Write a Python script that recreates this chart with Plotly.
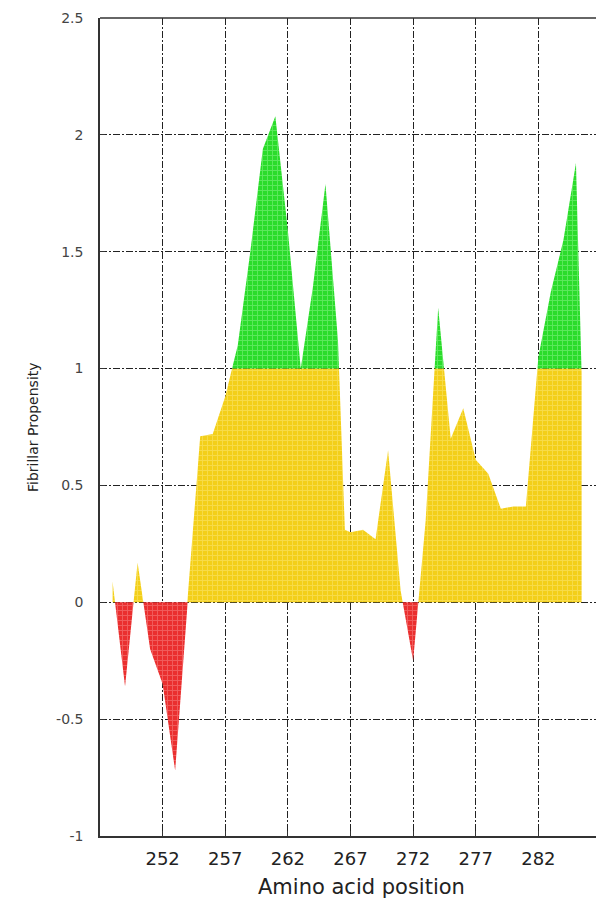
import plotly.graph_objects as go

# ---- data ----
position = [248, 249, 250, 251, 252, 253, 254, 255, 256, 257, 258, 259, 260,
            261, 262, 263, 264, 265, 266, 266.55, 267, 268, 269, 270, 271, 272,
            273, 274, 275, 276, 277, 278, 279, 280, 281, 282, 283, 284, 285,
            285.45]
propensity = [0.09, -0.36, 0.17, -0.20, -0.35, -0.72, 0.02, 0.71, 0.72, 0.88,
              1.10, 1.50, 1.94, 2.08, 1.59, 0.99, 1.35, 1.79, 1.12, 0.31, 0.30,
              0.31, 0.27, 0.65, 0.05, -0.25, 0.35, 1.26, 0.70, 0.83, 0.61,
              0.55, 0.40, 0.41, 0.41, 1.05, 1.33, 1.55, 1.88, 0.98]

x_ticks = [252, 257, 262, 267, 272, 277, 282]
y_ticks = [-1, -0.5, 0, 0.5, 1, 1.5, 2, 2.5]
y_tick_text = ["-1", "-0.5", "0", "0.5", "1", "1.5", "2", "2.5"]
threshold = 1.0


def with_crossings(xs, ys, levels):
    ox, oy = [xs[0]], [ys[0]]
    for i in range(1, len(xs)):
        x0, y0, x1, y1 = xs[i - 1], ys[i - 1], xs[i], ys[i]
        cuts = []
        for L in levels:
            if (y0 - L) * (y1 - L) < 0:
                t = (L - y0) / (y1 - y0)
                cuts.append((t, x0 + t * (x1 - x0), L))
        for _, cx, L in sorted(cuts):
            ox.append(cx)
            oy.append(L)
        ox.append(x1)
        oy.append(y1)
    return ox, oy


px, py = with_crossings(position, propensity, (0.0, threshold))
red_y = [min(v, 0.0) for v in py]
yellow_y = [min(max(v, 0.0), threshold) for v in py]
green_y = [max(v, threshold) for v in py]
base_y = [threshold for _ in py]

RED, RED_L = "#ea2f2f", "#f88a8a"
YEL, YEL_L = "#f3cf19", "#fbe97a"
GRN, GRN_L = "#2bdc2b", "#8ef58e"

fig = go.Figure()
fig.add_trace(go.Scatter(
    x=px, y=yellow_y, mode="lines", line=dict(width=0, color=YEL),
    fill="tozeroy", fillcolor=YEL,
    fillpattern=dict(shape="+", bgcolor=YEL, fgcolor=YEL_L, size=5, solidity=0.35),
    hoverinfo="skip", showlegend=False))
fig.add_trace(go.Scatter(
    x=px, y=red_y, mode="lines", line=dict(width=0, color=RED),
    fill="tozeroy", fillcolor=RED,
    fillpattern=dict(shape="+", bgcolor=RED, fgcolor=RED_L, size=5, solidity=0.35),
    hoverinfo="skip", showlegend=False))
fig.add_trace(go.Scatter(
    x=px, y=base_y, mode="lines", line=dict(width=0),
    hoverinfo="skip", showlegend=False))
fig.add_trace(go.Scatter(
    x=px, y=green_y, mode="lines", line=dict(width=0, color=GRN),
    fill="tonexty", fillcolor=GRN,
    fillpattern=dict(shape="+", bgcolor=GRN, fgcolor=GRN_L, size=5, solidity=0.35),
    hoverinfo="skip", showlegend=False))

grid = dict(showgrid=True, gridcolor="#222222", gridwidth=1,
            griddash="7px,2px,2px,2px", zeroline=False,
            showline=True, linecolor="#333333", linewidth=1.5,
            ticks="inside", ticklen=5, tickcolor="#333333")

fig.update_layout(
    width=596, height=906,
    margin=dict(l=100, r=0, t=18, b=70),
    paper_bgcolor="white", plot_bgcolor="white",
    showlegend=False,
    xaxis=dict(range=[247, 286.6], tickvals=x_ticks,
               tickfont=dict(family="DejaVu Sans", size=18, color="#222222"),
               ticklabelstandoff=6, **grid),
    yaxis=dict(range=[-1, 2.5], tickvals=y_ticks, ticktext=y_tick_text,
               tickfont=dict(family="DejaVu Sans", size=14, color="#444444"),
               ticklabelstandoff=12, **grid),
    shapes=[dict(type="line", xref="paper", yref="paper", x0=0, x1=1, y0=1, y1=1,
                 line=dict(color="#333333", width=1.5))],
    annotations=[
        dict(text="Amino acid position", xref="paper", yref="paper",
             x=(361 - 100) / 496, y=-51 / 818, xanchor="center", yanchor="middle",
             showarrow=False, font=dict(family="DejaVu Sans", size=21, color="#222222")),
        dict(text="Fibrillar Propensity", xref="paper", yref="paper",
             x=-67 / 496, y=0.5, xanchor="center", yanchor="middle", textangle=-90,
             showarrow=False, font=dict(family="DejaVu Sans", size=14, color="#222222")),
    ],
)

fig.write_html("out.html")
